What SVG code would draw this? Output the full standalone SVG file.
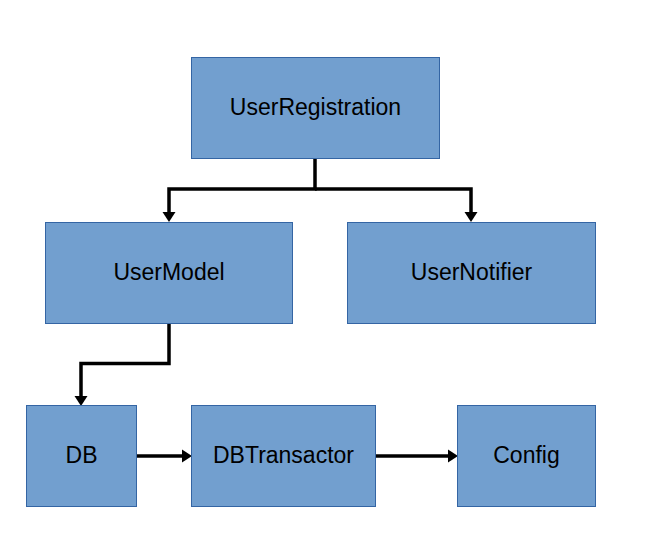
<svg xmlns="http://www.w3.org/2000/svg" width="669" height="545" viewBox="0 0 669 545">
<style>
.box{fill:#729fcf;stroke:#3465a4;stroke-width:1}
.lbl{font-family:"Liberation Sans",Arial,sans-serif;font-size:23px;fill:#000;text-anchor:middle}
.edge{fill:none;stroke:#000;stroke-width:3.5;stroke-linejoin:miter}
</style>
<defs>
<marker id="ah" markerUnits="userSpaceOnUse" markerWidth="10" markerHeight="13" viewBox="0 0 10 13" refX="0" refY="6.5" orient="auto" overflow="visible">
<path d="M0,0 L10,6.5 L0,13 Z" fill="#000"/>
</marker>
</defs>
<rect width="669" height="545" fill="#fff"/>
<g id="edges">
<path class="edge" d="M315,158.5 V189 H169 V212" marker-end="url(#ah)"/>
<path class="edge" d="M315,189 H471 V212" marker-end="url(#ah)"/>
<path class="edge" d="M169,323.5 V363.5 H81 V396" marker-end="url(#ah)"/>
<path class="edge" d="M137,456 H182" marker-end="url(#ah)"/>
<path class="edge" d="M375,456 H448" marker-end="url(#ah)"/>
</g>
<g id="UserRegistration"><rect class="box" x="191.5" y="57.5" width="248" height="101"/><text class="lbl" x="315.5" y="115">UserRegistration</text></g>
<g id="UserModel"><rect class="box" x="45.5" y="222.5" width="247" height="101"/><text class="lbl" x="169" y="280">UserModel</text></g>
<g id="UserNotifier"><rect class="box" x="347.5" y="222.5" width="248" height="101"/><text class="lbl" x="471.5" y="280">UserNotifier</text></g>
<g id="DB"><rect class="box" x="26.5" y="405.5" width="110" height="101"/><text class="lbl" x="81.5" y="463">DB</text></g>
<g id="DBTransactor"><rect class="box" x="191.5" y="405.5" width="184" height="101"/><text class="lbl" x="283.5" y="463">DBTransactor</text></g>
<g id="Config"><rect class="box" x="457.5" y="405.5" width="138" height="101"/><text class="lbl" x="526.5" y="463">Config</text></g>
</svg>
